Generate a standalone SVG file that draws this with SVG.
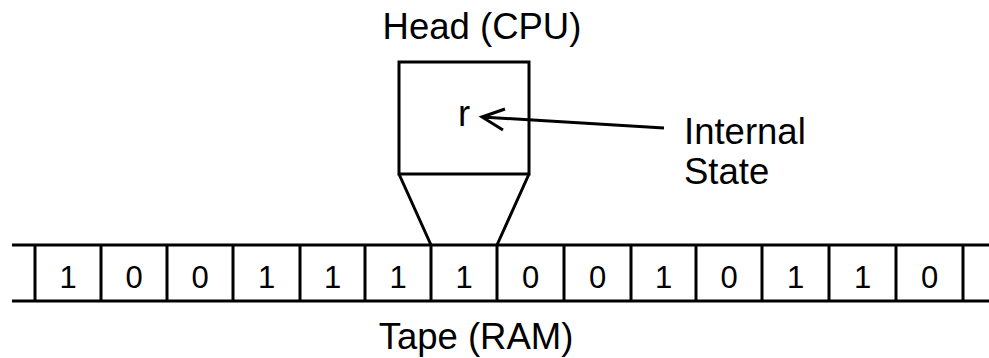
<svg xmlns="http://www.w3.org/2000/svg" width="989" height="358" viewBox="0 0 989 358">
<style>
.ln{stroke:#000;stroke-width:3;fill:none;stroke-linecap:butt}
.lbl{font-family:"Liberation Sans",Arial,sans-serif;font-size:36.5px;fill:#000}
.dg{font-family:"Liberation Sans",Arial,sans-serif;font-size:31px;fill:#000;text-anchor:middle}
</style>
<rect width="989" height="358" fill="#fff"/>
<g id="head">
<rect class="ln" x="399" y="62" width="130" height="112"/>
<path class="ln" d="M399,174 L431,245 M529,174 L497,245"/>
<text class="lbl" x="482" y="39" text-anchor="middle">Head (CPU)</text>
<text class="lbl" x="464" y="126" text-anchor="middle">r</text>
</g>
<g id="state">
<text class="lbl" x="684" y="144">Internal</text>
<text class="lbl" x="684" y="184">State</text>
</g>
<g id="tape">
<path class="ln" d="M12,245 H989 M12,301 H989"/>
<path class="ln" d="M35,245 V301 M101,245 V301 M167,245 V301 M233,245 V301 M300,245 V301 M365,245 V301 M431,245 V301 M497,245 V301 M564,245 V301 M631,245 V301 M696,245 V301 M762,245 V301 M829,245 V301 M896,245 V301 M963,245 V301"/>
<g>
<text class="dg" x="68" y="288">1</text>
<text class="dg" x="134" y="288">0</text>
<text class="dg" x="200" y="288">0</text>
<text class="dg" x="266.5" y="288">1</text>
<text class="dg" x="332.5" y="288">1</text>
<text class="dg" x="398" y="288">1</text>
<text class="dg" x="464" y="288">1</text>
<text class="dg" x="530.5" y="288">0</text>
<text class="dg" x="597.5" y="288">0</text>
<text class="dg" x="663.5" y="288">1</text>
<text class="dg" x="729" y="288">0</text>
<text class="dg" x="795.5" y="288">1</text>
<text class="dg" x="862.5" y="288">1</text>
<text class="dg" x="929.5" y="288">0</text>
</g>
<text class="lbl" x="476" y="349" text-anchor="middle">Tape (RAM)</text>
</g>
<g id="connectors">
<path class="ln" d="M664,128 L482,117 M505,109 L482,117 L503,130" stroke-linejoin="miter"/>
</g>
</svg>
